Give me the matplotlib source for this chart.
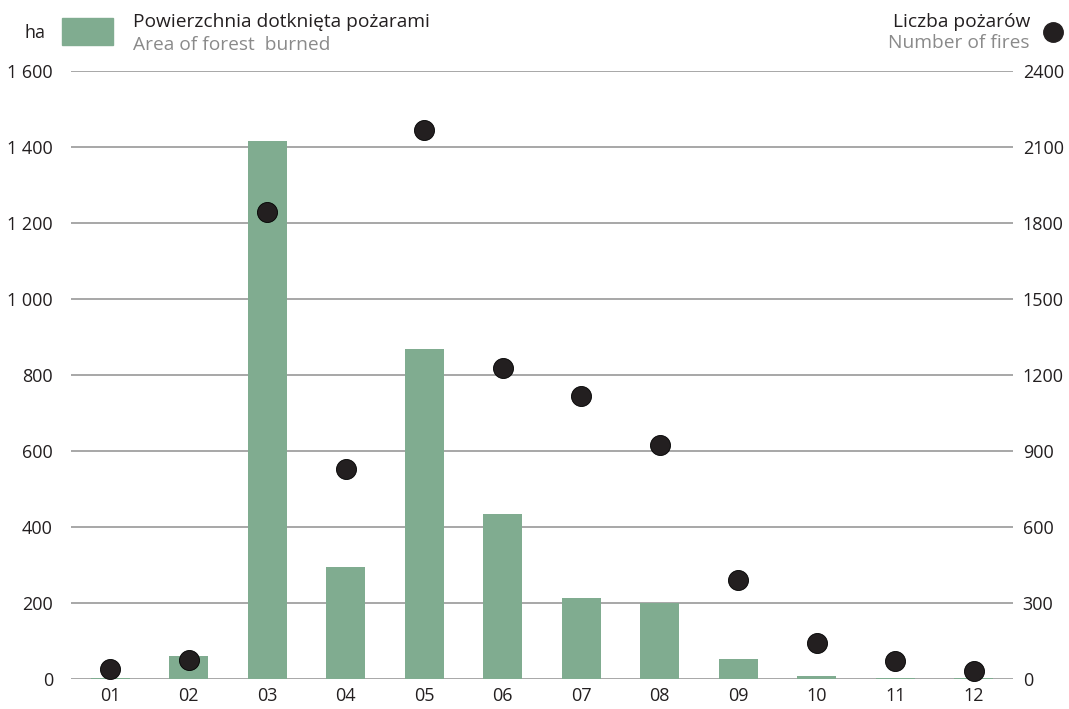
import numpy as np
import matplotlib
matplotlib.use('Agg')
import matplotlib.pyplot as plt
from matplotlib.lines import Line2D
from matplotlib.patches import Rectangle
from matplotlib.ticker import FuncFormatter

# Data
months = ['01', '02', '03', '04', '05', '06', '07', '08', '09', '10', '11', '12']
area_ha = [2, 60, 1416, 295, 868, 433, 213, 199, 52, 8, 2, 3]
fires = [41, 74, 1844, 830, 2169, 1227, 1116, 925, 390, 142, 70, 32]

left_ticks = [0, 200, 400, 600, 800, 1000, 1200, 1400, 1600]
right_ticks = [0, 300, 600, 900, 1200, 1500, 1800, 2100, 2400]

BAR_COLOR = '#80ac90'
DOT_COLOR = '#231f20'
TEXT_COLOR = '#231f20'
SUB_COLOR = '#8a8a8a'
GRID_COLOR = '#909090'

plt.rcParams['font.family'] = ['Open Sans', 'DejaVu Sans']

W, H = 1069, 709
fig = plt.figure(figsize=(W / 100, H / 100), dpi=100)
ax = fig.add_axes([71 / W, 30 / H, (1013 - 71) / W, (679 - 71) / H])

x = np.arange(len(months))
ax.bar(x, area_ha, width=0.5, color=BAR_COLOR, zorder=2)
ax.set_xlim(-0.5, len(months) - 0.5)
ax.set_ylim(0, 1600)
ax.set_yticks(left_ticks)
ax.yaxis.set_major_formatter(FuncFormatter(lambda v, p: f'{int(v):,}'.replace(',', ' ')))
ax.set_xticks(x)
ax.set_xticklabels(months)
ax.grid(axis='y', color=GRID_COLOR, linewidth=1.1, zorder=0)
ax.set_axisbelow(True)
for s in ax.spines.values():
    s.set_visible(False)
ax.tick_params(axis='both', length=0, labelsize=13, colors=TEXT_COLOR)
ax.tick_params(axis='y', pad=13)
ax.tick_params(axis='x', pad=6)

ax2 = ax.twinx()
ax2.scatter(x, fires, s=20 ** 2 * 0.52, color=DOT_COLOR, edgecolors='#000000',
            linewidths=0.6, zorder=3, clip_on=False)
ax2.set_ylim(0, 2400)
ax2.set_yticks(right_ticks)
for s in ax2.spines.values():
    s.set_visible(False)
ax2.tick_params(axis='y', length=0, labelsize=13, colors=TEXT_COLOR, pad=7)

# Legend / header
fig.text(24 / W, 1 - 33 / H, 'ha', fontsize=13, color=TEXT_COLOR, va='center', ha='left')
fig.add_artist(Rectangle((62 / W, 1 - 45 / H), 51 / W, 27 / H,
                         transform=fig.transFigure, color=BAR_COLOR))
fig.text(133 / W, 1 - 22 / H, 'Powierzchnia dotknięta pożarami', fontsize=13.8,
         color=TEXT_COLOR, va='center', ha='left')
fig.text(133 / W, 1 - 45 / H, 'Area of forest  burned', fontsize=13.8,
         color=SUB_COLOR, va='center', ha='left')
fig.text(1030 / W, 1 - 22 / H, 'Liczba pożarów', fontsize=13.8,
         color=TEXT_COLOR, va='center', ha='right')
fig.text(1030 / W, 1 - 43 / H, 'Number of fires', fontsize=13.8,
         color=SUB_COLOR, va='center', ha='right')
fig.add_artist(Line2D([1053 / W], [1 - 32 / H], marker='o', markersize=14,
                      color=DOT_COLOR, transform=fig.transFigure, linestyle='none'))

fig.savefig('out.png', dpi=100)
